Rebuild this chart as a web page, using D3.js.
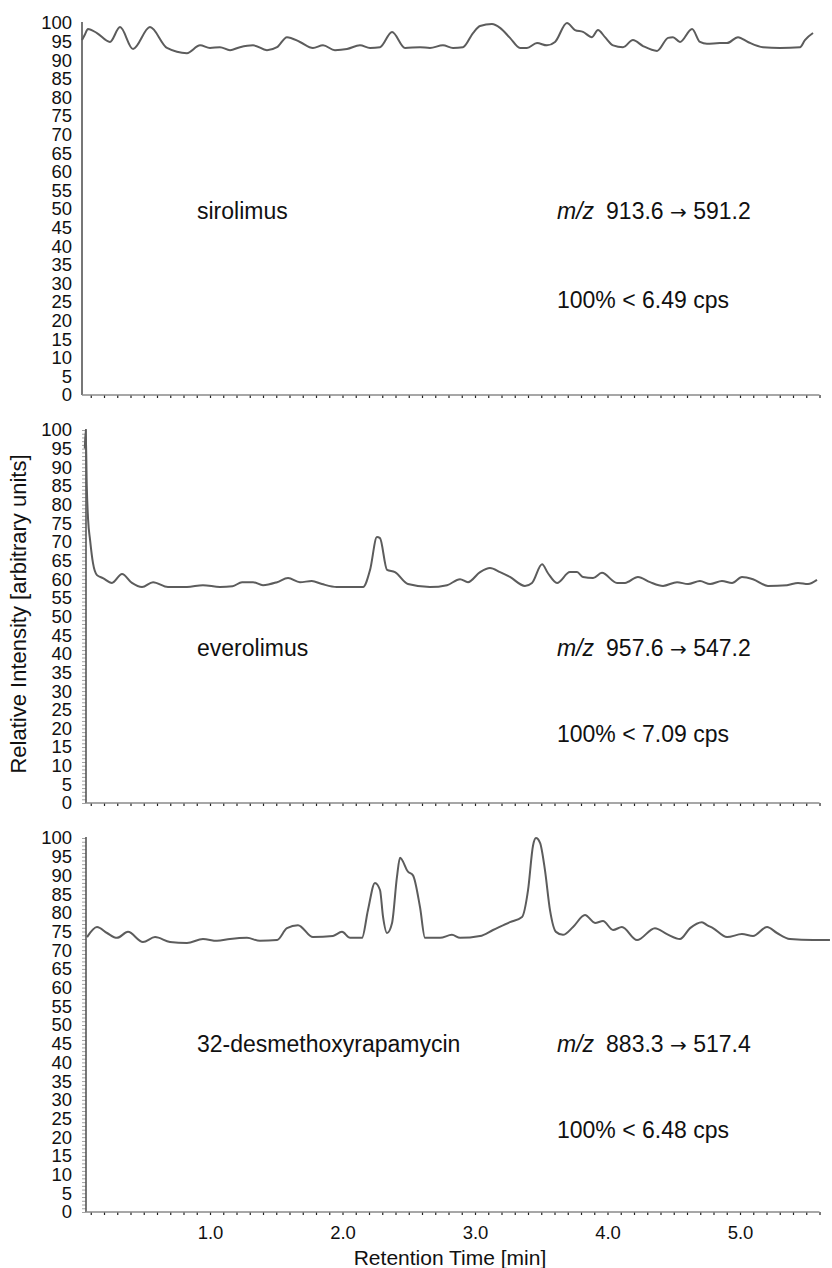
<!DOCTYPE html>
<html><head><meta charset="utf-8">
<script src="https://cdn.jsdelivr.net/npm/d3@7/dist/d3.min.js"></script>
<style>body{margin:0;background:#fff}svg{display:block}text{font-family:"Liberation Sans",Arial,sans-serif;fill:#111}</style>
</head><body>
<svg id="c" width="832" height="1268"></svg>
<script>
// ---- data: [retention time (min), relative intensity] ----
const sirolimus = [[0.034,95.4],[0.057,97],[0.079,98.4],[0.147,97.3],[0.245,94.9],[0.321,98.9],[0.419,93],[0.547,98.9],[0.675,93.3],[0.826,91.9],[0.925,94],[1.0,93.3],[1.075,93.5],[1.151,92.7],[1.226,93.5],[1.325,94],[1.43,92.7],[1.506,93.5],[1.581,96.2],[1.679,94.9],[1.777,93.3],[1.853,94],[1.943,92.7],[2.034,93],[2.132,94],[2.208,93.3],[2.283,93.5],[2.374,97.6],[2.472,93.3],[2.585,93.5],[2.66,93.3],[2.758,94],[2.834,93.3],[2.909,93.5],[2.985,97.3],[3.038,99.2],[3.128,99.7],[3.189,98.7],[3.264,96],[3.34,93.3],[3.392,93.3],[3.468,94.6],[3.543,94],[3.604,94.9],[3.694,100],[3.755,98.1],[3.815,97.6],[3.883,96.2],[3.928,98.1],[3.981,96.2],[4.042,94],[4.117,93.5],[4.192,95.4],[4.268,93.8],[4.374,92.5],[4.457,96],[4.494,96.2],[4.547,94.9],[4.638,98.4],[4.698,94.9],[4.751,94.4],[4.849,94.6],[4.902,94.6],[4.985,96.2],[5.06,94.9],[5.174,93.5],[5.302,93.3],[5.453,93.5],[5.49,95.4],[5.551,97.3]];
const everolimus = [[0.055,95],[0.062,100],[0.07,85],[0.08,76],[0.095,70.5],[0.117,64.3],[0.147,61.1],[0.192,60.3],[0.26,59],[0.336,61.4],[0.411,59],[0.487,57.9],[0.57,59.2],[0.683,57.9],[0.826,57.9],[0.947,58.4],[1.075,57.9],[1.17,58.1],[1.242,59.2],[1.325,59.2],[1.40,58.4],[1.506,59.2],[1.589,60.3],[1.679,59.2],[1.768,59.5],[1.845,58.7],[1.957,57.9],[2.155,57.9],[2.208,62.5],[2.26,71.3],[2.283,71],[2.336,62.5],[2.396,61.9],[2.494,58.7],[2.66,57.9],[2.789,58.4],[2.887,60],[2.947,59.2],[3.038,61.9],[3.113,63],[3.189,61.9],[3.264,60.6],[3.377,58.2],[3.43,59],[3.506,64],[3.551,61.6],[3.619,59],[3.717,61.9],[3.77,61.9],[3.815,60.6],[3.891,60.3],[3.958,61.7],[4.072,59],[4.132,59],[4.23,60.6],[4.321,59.2],[4.419,58.2],[4.525,59.2],[4.608,58.7],[4.698,59.5],[4.774,58.7],[4.864,59.5],[4.94,59],[5.015,60.6],[5.098,60],[5.211,58.2],[5.355,58.4],[5.438,59],[5.513,58.7],[5.581,59.8]];
const desmethoxy = [[0.072,73.5],[0.147,76.2],[0.223,74.6],[0.298,73.3],[0.381,74.9],[0.494,72.2],[0.585,73.5],[0.698,72.2],[0.826,71.9],[0.947,73],[1.053,72.5],[1.151,73],[1.279,73.3],[1.377,72.5],[1.506,72.7],[1.581,75.9],[1.664,76.7],[1.777,73.5],[1.928,73.8],[1.996,74.9],[2.057,73.3],[2.147,73.3],[2.192,80.7],[2.245,88],[2.283,86.1],[2.306,78.9],[2.336,74.6],[2.374,77.3],[2.411,89.6],[2.434,94.7],[2.494,91],[2.532,90],[2.585,81.5],[2.623,73.3],[2.736,73.3],[2.826,74.1],[2.887,73.3],[3.038,73.8],[3.136,75.4],[3.264,77.5],[3.355,78.9],[3.4,86],[3.438,98],[3.46,100],[3.491,98.7],[3.528,91.4],[3.566,80.7],[3.611,74.9],[3.664,74.1],[3.74,76.2],[3.83,79.4],[3.906,77.3],[3.966,77.8],[4.042,75.4],[4.109,76.2],[4.223,72.7],[4.358,75.9],[4.449,74.3],[4.547,73],[4.623,75.9],[4.713,77.5],[4.751,76.7],[4.796,75.9],[4.902,73.5],[5.015,74.3],[5.098,73.8],[5.204,76.2],[5.279,74.6],[5.377,73],[5.551,72.7],[5.679,72.7]];

const compounds = ["sirolimus","everolimus","32-desmethoxyrapamycin"];
const precursors = ["913.6","957.6","883.3"];
const products = ["591.2","547.2","517.4"];
const cpsLabels = ["100% < 6.49 cps","100% < 7.09 cps","100% < 6.48 cps"];
const series = [sirolimus, everolimus, desmethoxy];
const yTicks = d3.range(0, 101, 5);
const xLabelTicks = [1.0, 2.0, 3.0, 4.0, 5.0];
const xMinorTicks = d3.range(1, 57).map(d => d / 10);
const xTitle = "Retention Time [min]";
const yTitle = "Relative Intensity [arbitrary units]";

// ---- layout ----
const svg = d3.select("#c");
const x = d3.scaleLinear().domain([0, 5.6]).range([77.5, 819.5]);
const panels = [
  {top: 23, bottom: 395, axisX: 82, minor: false, nameAt: 49.5, cpsAt: 25.5},
  {top: 430, bottom: 803, axisX: 86, minor: true, nameAt: 41.5, cpsAt: 18.5},
  {top: 838, bottom: 1212, axisX: 86, minor: true, nameAt: 45, cpsAt: 22}
];
const FONT = '"Liberation Sans",Arial,sans-serif';

panels.forEach((p, i) => {
  const y = d3.scaleLinear().domain([0, 100]).range([p.bottom, p.top]);
  const g = svg.append("g");

  if (p.minor) {
    const ym = g.append("g").attr("transform", `translate(${p.axisX},0)`)
      .call(d3.axisLeft(y).tickValues(d3.range(0, 101, 1)).tickSize(4).tickFormat(""));
    ym.select(".domain").remove();
    ym.selectAll("line").attr("stroke", "#8a8a8a").attr("stroke-width", 0.8);
  }
  const yl = g.append("g").attr("transform", `translate(${p.axisX},0)`)
    .call(d3.axisLeft(y).tickValues(yTicks).tickSize(0).tickPadding(p.axisX - 72));
  yl.select(".domain").remove();
  yl.selectAll("text").style("font-size", "18.5px").attr("fill", "#111").style("font-family", FONT);

  g.append("line").attr("x1", p.axisX).attr("x2", p.axisX)
    .attr("y1", y(100) - 1).attr("y2", y(0))
    .attr("stroke", "#555").attr("stroke-width", 1.6);

  const xa = g.append("g").attr("transform", `translate(0,${p.bottom})`)
    .call(d3.axisBottom(x).tickValues(xMinorTicks).tickSize(3).tickFormat(""));
  xa.select(".domain").remove();
  xa.selectAll("line").attr("stroke", "#222").attr("stroke-width", 1.2);
  g.append("line").attr("x1", p.axisX).attr("x2", x(5.6))
    .attr("y1", p.bottom).attr("y2", p.bottom)
    .attr("stroke", "#8a8a8a").attr("stroke-width", 1.4);

  if (i === 2) {
    const xl = g.append("g").attr("transform", `translate(0,${p.bottom})`)
      .call(d3.axisBottom(x).tickValues(xLabelTicks).tickSize(0).tickPadding(14).tickFormat(d3.format(".1f")));
    xl.select(".domain").remove();
    xl.selectAll("text").style("font-size", "18.5px").attr("fill", "#111").style("font-family", FONT);
  }

  const line = d3.line().x(d => x(d[0])).y(d => y(d[1])).curve(d3.curveMonotoneX);
  g.append("path").datum(series[i]).attr("d", line)
    .attr("fill", "none").attr("stroke", "#5c5c5c").attr("stroke-width", 2)
    .attr("stroke-linejoin", "round");

  const ty = y(p.nameAt) + 8;
  g.append("text").attr("x", 197).attr("y", ty).style("font-size", "23px").text(compounds[i]);
  const t = g.append("text").attr("x", 557).attr("y", ty).style("font-size", "23px");
  t.append("tspan").style("font-style", "italic").text("m/z");
  t.append("tspan").attr("dx", 12).text(precursors[i] + " ");
  t.append("tspan").style("font-family", '"DejaVu Sans",sans-serif').style("font-size", "20px").text("\u2192");
  t.append("tspan").text(" " + products[i]);
  g.append("text").attr("x", 557).attr("y", y(p.cpsAt) + 8).style("font-size", "23px").text(cpsLabels[i]);
});

svg.append("text").attr("x", 450).attr("y", 1265).attr("text-anchor", "middle")
  .style("font-size", "21px").text(xTitle);
svg.append("text").attr("transform", "translate(26,614) rotate(-90)").attr("text-anchor", "middle")
  .style("font-size", "22px").text(yTitle);
</script>
</body></html>
